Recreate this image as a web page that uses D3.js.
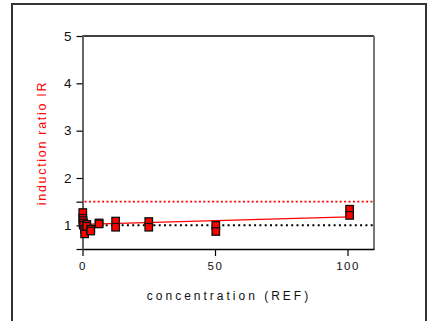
<!DOCTYPE html>
<html>
<head>
<meta charset="utf-8">
<script src="https://cdn.jsdelivr.net/npm/d3@7"></script>
<style>
  html, body { margin: 0; padding: 0; background: #fff; }
  svg { display: block; font-family: "Liberation Sans", Arial, sans-serif; }
</style>
</head>
<body>
<svg id="chart"></svg>
<script>
// measured data (concentration, induction ratio), two replicates each
var concentrations = [0.1, 0.1, 0.2, 0.2, 0.4, 0.4, 0.8, 0.8, 1.6, 1.6, 3.1, 3.1, 6.25, 6.25, 12.5, 12.5, 25, 25, 50.3, 50.3, 100.8, 100.8];
var ratios = [1.27, 1.15, 1.10, 1.03, 1.05, 1.00, 0.92, 0.82, 1.02, 0.98, 0.92, 0.88, 1.05, 1.03, 1.09, 0.96, 1.08, 0.96, 1.00, 0.87, 1.34, 1.21];
// regression line end points
var fitX = [0, 100.8];
var fitY = [1.02, 1.18];
// reference levels
var thresholdLevel = 1.5;
var baseLevel = 1;
var xTicks = [0, 50, 100];
var yTicks = [0.5, 1, 1.5, 2, 3, 4, 5];
var yLabels = [1, 2, 3, 4, 5];

var width = 428, height = 321;
var margin = { top: 36, right: 54, bottom: 72, left: 82.5 };

var svg = d3.select("#chart")
    .attr("width", width)
    .attr("height", height);

// outer frame
svg.append("rect")
    .attr("x", 12).attr("y", 4)
    .attr("width", 414).attr("height", 340)
    .attr("fill", "none")
    .attr("stroke", "#333")
    .attr("stroke-width", 2);

var x = d3.scaleLinear()
    .domain([0, 110])
    .range([margin.left, width - margin.right]);

var y = d3.scaleLinear()
    .domain([0.5, 5])
    .range([height - margin.bottom, margin.top]);

// top and right frame of the plot
svg.append("line")
    .attr("x1", x(0)).attr("x2", x(110))
    .attr("y1", y(5)).attr("y2", y(5))
    .attr("stroke", "#000").attr("stroke-width", 1.5);
svg.append("line")
    .attr("x1", x(110)).attr("x2", x(110))
    .attr("y1", y(5)).attr("y2", y(0.5))
    .attr("stroke", "#777").attr("stroke-width", 2);

// x axis
var xAxis = g => g
    .attr("transform", `translate(0,${y(0.5)})`)
    .call(d3.axisBottom(x).tickValues(xTicks).tickSize(7).tickSizeOuter(0).tickPadding(6))
    .call(g => g.select(".domain").attr("stroke", "#000").attr("stroke-width", 1.5))
    .call(g => g.selectAll(".tick line").attr("stroke", "#000").attr("stroke-width", 1.2))
    .call(g => g.selectAll(".tick text")
        .attr("font-size", 11.5)
        .attr("letter-spacing", "1.5px")
        .attr("fill", "#111"));
svg.append("g").call(xAxis);

// y axis
var yAxis = g => g
    .attr("transform", `translate(${x(0)},0)`)
    .call(d3.axisLeft(y).tickValues(yTicks).tickSize(6).tickSizeOuter(0).tickPadding(5)
        .tickFormat(d => yLabels.includes(d) ? d : ""))
    .call(g => g.select(".domain").attr("stroke", "#666").attr("stroke-width", 2))
    .call(g => g.selectAll(".tick line").attr("stroke", "#000").attr("stroke-width", 1.2))
    .call(g => g.selectAll(".tick text")
        .attr("font-size", 13.5)
        .attr("fill", "#111"));
svg.append("g").call(yAxis);

// axis titles
svg.append("text")
    .attr("x", 229)
    .attr("y", 300)
    .attr("text-anchor", "middle")
    .attr("font-size", 12)
    .attr("letter-spacing", "3px")
    .attr("fill", "#111")
    .text("concentration (REF)");

svg.append("text")
    .attr("transform", "translate(46,143) rotate(-90)")
    .attr("text-anchor", "middle")
    .attr("font-size", 12.5)
    .attr("letter-spacing", "1.7px")
    .attr("fill", "#ff0000")
    .text("induction ratio IR");

// reference lines
svg.append("line")
    .attr("x1", x(0) + 2).attr("x2", x(110))
    .attr("y1", y(thresholdLevel)).attr("y2", y(thresholdLevel))
    .attr("stroke", "#ff0000").attr("stroke-width", 1.6)
    .attr("stroke-dasharray", "2,2.4");
svg.append("line")
    .attr("x1", x(0) + 2).attr("x2", x(110))
    .attr("y1", y(baseLevel)).attr("y2", y(baseLevel))
    .attr("stroke", "#000").attr("stroke-width", 2)
    .attr("stroke-dasharray", "2,3.3");

// fit line
var fitData = fitX.map((v, i) => ({ c: v, r: fitY[i] }));
svg.append("path")
    .datum(fitData)
    .attr("fill", "none")
    .attr("stroke", "#ff0000")
    .attr("stroke-width", 1.3)
    .attr("d", d3.line().x(d => x(d.c)).y(d => y(d.r)));

// points
var points = concentrations.map((c, i) => ({ c: c, r: ratios[i] }));
var s = 7.5;
svg.append("g")
    .selectAll("rect")
    .data(points)
    .join("rect")
    .attr("x", d => x(d.c) - s / 2)
    .attr("y", d => y(d.r) - s / 2)
    .attr("width", s)
    .attr("height", s)
    .attr("fill", "#ff0000")
    .attr("stroke", "#111")
    .attr("stroke-width", 1.3);
</script>
</body>
</html>
